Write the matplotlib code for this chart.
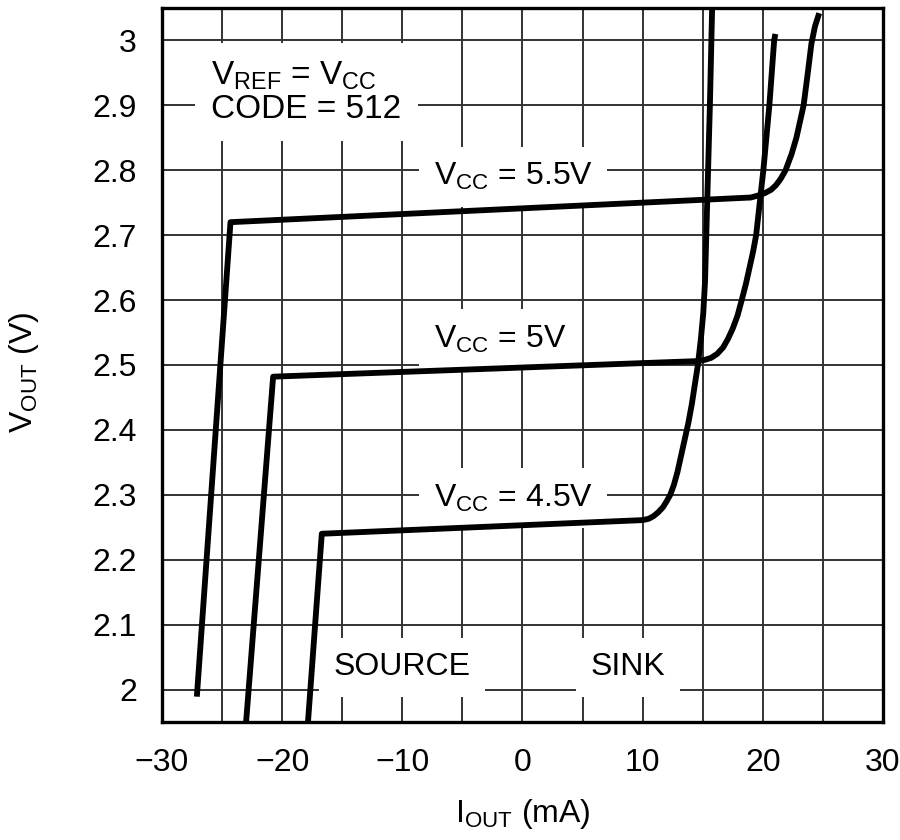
import matplotlib
matplotlib.use("Agg")
import matplotlib.pyplot as plt
from matplotlib import font_manager

# pick a condensed sans font if present
fam = "DejaVu Sans"
for name in ["Liberation Sans Narrow", "Liberation Sans"]:
    try:
        font_manager.findfont(name, fallback_to_default=False)
        fam = name
        break
    except Exception:
        pass

plt.rcParams["font.family"] = [fam, "DejaVu Sans"]
plt.rcParams["mathtext.fontset"] = "custom"
plt.rcParams["mathtext.rm"] = fam
plt.rcParams["mathtext.it"] = fam
plt.rcParams["axes.unicode_minus"] = True

# data (I_OUT in mA, V_OUT in V)
i_55 = [-27.1, -24.3, 19.0, 19.6, 20.2, 20.7, 21.1, 21.5, 21.9, 22.4, 22.8, 23.1,
        23.4, 23.75, 24.05, 24.35, 24.7]
v_55 = [1.989, 2.72, 2.758, 2.761, 2.765, 2.770, 2.777, 2.787, 2.8, 2.825, 2.85, 2.875,
        2.9, 2.95, 2.995, 3.022, 3.042]

i_50 = [-23.0, -20.75, 14.6, 15.2, 15.7, 16.2, 16.7, 17.1, 17.5, 17.9, 18.25,
        18.6, 18.9, 19.2, 19.45, 19.75, 20.05, 20.55, 20.95, 21.05]
v_50 = [1.95, 2.482, 2.506, 2.508, 2.511, 2.517, 2.527, 2.54, 2.556, 2.576, 2.6,
        2.625, 2.65, 2.675, 2.7, 2.75, 2.8, 2.9, 3.0, 3.01]

i_45 = [-17.85, -16.7, 10.0, 10.5, 10.9, 11.3, 11.7, 12.0, 12.3, 12.6, 12.9, 13.2,
        13.5, 13.8, 14.1, 14.35, 14.6, 14.85, 15.05, 15.2, 15.3, 15.45, 15.6, 15.8]
v_45 = [1.95, 2.24, 2.261, 2.263, 2.267, 2.273, 2.281, 2.29, 2.3, 2.315, 2.335, 2.36,
        2.385, 2.41, 2.44, 2.47, 2.5, 2.54, 2.58, 2.63, 2.7, 2.8, 2.9, 3.06]

x_ticks = [-30, -20, -10, 0, 10, 20, 30]
y_ticks = [2.0, 2.1, 2.2, 2.3, 2.4, 2.5, 2.6, 2.7, 2.8, 2.9, 3.0]
y_labels = ["2", "2.1", "2.2", "2.3", "2.4", "2.5", "2.6", "2.7", "2.8", "2.9", "3"]

fig = plt.figure(figsize=(9, 8.4), dpi=100)
ax = fig.add_axes([0.18, 0.1405, 0.801, 0.85])

ax.set_xlim(-30, 30)
ax.set_ylim(1.95, 3.05)

# grid every 5 mA / 0.1 V
for gx in range(-25, 30, 5):
    ax.axvline(gx, color="0.2", lw=1.4, zorder=1)
for gy in y_ticks:
    ax.axhline(gy, color="0.2", lw=1.4, zorder=1)

for xs, ys in [(i_55, v_55), (i_50, v_50), (i_45, v_45)]:
    ax.plot(xs, ys, color="black", lw=4.2, solid_joinstyle="round",
            solid_capstyle="butt", zorder=4)

ax.set_xticks(x_ticks)
ax.set_yticks(y_ticks)
ax.set_yticklabels(y_labels)
ax.tick_params(length=0, labelsize=23, pad=18)
ax.tick_params(axis="x", pad=19)
for s in ax.spines.values():
    s.set_linewidth(2.4)

box = dict(boxstyle="square,pad=0.45", facecolor="white", edgecolor="none")
fs = 23

ax.text(-25.9, 2.92, "V$_{\\mathrm{REF}}$ = V$_{\\mathrm{CC}}$\nCODE = 512",
        fontsize=24, ha="left", va="center", linespacing=1.05,
        bbox=dict(boxstyle="square,pad=0.5", facecolor="white", edgecolor="none"),
        zorder=3)
ax.text(-7.4, 2.79, "V$_{\\mathrm{CC}}$ = 5.5V", fontsize=fs, ha="left",
        va="center", bbox=box, zorder=3)
ax.text(-7.4, 2.54, "V$_{\\mathrm{CC}}$ = 5V", fontsize=fs, ha="left",
        va="center", bbox=box, zorder=3)
ax.text(-7.4, 2.295, "V$_{\\mathrm{CC}}$ = 4.5V", fontsize=fs, ha="left",
        va="center", bbox=box, zorder=3)
ax.text(-10.0, 2.034, "SOURCE", fontsize=fs, ha="center", va="center",
        bbox=box, zorder=3)
ax.text(8.8, 2.034, "SINK", fontsize=fs, ha="center", va="center",
        bbox=box, zorder=3)

ax.set_xlabel("I$_{\\mathrm{OUT}}$ (mA)", fontsize=fs)
ax.set_ylabel("V$_{\\mathrm{OUT}}$ (V)", fontsize=fs)
ax.xaxis.set_label_coords(0.5, -0.105)
ax.yaxis.set_label_coords(-0.168, 0.49)

fig.savefig("out.png", dpi=100, facecolor="white")
